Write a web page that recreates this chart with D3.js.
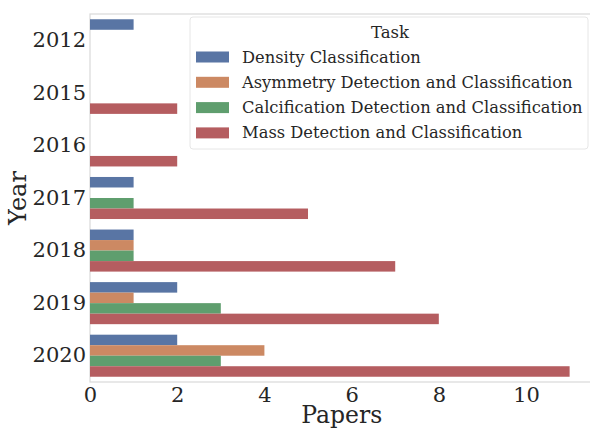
<!DOCTYPE html>
<html>
<head>
<meta charset="utf-8">
<script src="https://cdn.jsdelivr.net/npm/d3@7"></script>
<style>
  body { margin: 0; background: #fff; }
  text { font-family: "DejaVu Serif", serif; fill: #262626; }
</style>
</head>
<body>
<div id="chart"></div>
<script>
// data
var years = ['2012', '2015', '2016', '2017', '2018', '2019', '2020'];
var tasks = [
  'Density Classification',
  'Asymmetry Detection and Classification',
  'Calcification Detection and Classification',
  'Mass Detection and Classification'
];
var density = [1, 0, 0, 1, 1, 2, 2];
var asymmetry = [0, 0, 0, 0, 1, 1, 4];
var calcification = [0, 0, 0, 1, 1, 3, 3];
var mass = [0, 2, 2, 5, 7, 8, 11];
var xTicks = [0, 2, 4, 6, 8, 10];
// seaborn "deep", desaturated like barplot does
var colors = ['#5975a4', '#cc8963', '#5f9e6e', '#b55d60'];

var series = [density, asymmetry, calcification, mass];

// size: svg / plot area
var w = 590, h = 429;
var pL = 90, pR = 593.6, pT = 14, pB = 382;

var svg = d3.select('#chart')
  .append('svg')
  .attr('width', w)
  .attr('height', h);

// scales
var x = d3.scaleLinear().domain([0, 11.55]).range([pL, pR]);
var y = d3.scaleBand().domain(years).range([pT, pB]);
var y1 = d3.scaleBand().domain(tasks).range([0, y.bandwidth() * 0.8]);

// spines
svg.append('rect')
  .attr('x', pL)
  .attr('y', pT)
  .attr('width', pR - pL)
  .attr('height', pB - pT)
  .attr('fill', 'none')
  .attr('stroke', '#d9d9d9')
  .attr('stroke-width', 1.2);

// bars
var gb = svg.append('g');
series.forEach(function (vals, i) {
  gb.selectAll('.bar' + i)
    .data(vals)
    .enter()
    .append('rect')
    .attr('class', 'bar' + i)
    .attr('x', x(0))
    .attr('y', function (d, j) { return y(years[j]) + y.bandwidth() * 0.1 + y1(tasks[i]); })
    .attr('width', function (d) { return x(d) - x(0); })
    .attr('height', y1.bandwidth())
    .attr('fill', colors[i])
    .attr('visibility', function (d) { return d > 0 ? 'visible' : 'hidden'; });
});

// axes
var xAxis = svg.append('g')
  .attr('transform', 'translate(0,' + pB + ')')
  .call(d3.axisBottom(x).tickValues(xTicks).tickSize(0).tickPadding(5));
xAxis.select('.domain').remove();
xAxis.selectAll('text')
  .style('font-family', '"DejaVu Serif", serif')
  .style('font-size', '21px')
  .attr('fill', '#262626');

var yAxis = svg.append('g')
  .attr('transform', 'translate(' + pL + ',0)')
  .call(d3.axisLeft(y).tickSize(0).tickPadding(4));
yAxis.select('.domain').remove();
yAxis.selectAll('text')
  .style('font-family', '"DejaVu Serif", serif')
  .style('font-size', '21px')
  .attr('fill', '#262626');

// axis labels
svg.append('text')
  .attr('x', (pL + pR) / 2)
  .attr('y', 422.5)
  .attr('text-anchor', 'middle')
  .style('font-size', '23.5px')
  .text('Papers');

svg.append('text')
  .attr('transform', 'translate(26,' + (pT + pB) / 2 + ') rotate(-90)')
  .attr('text-anchor', 'middle')
  .style('font-size', '24px')
  .text('Year');

// legend
var lg = svg.append('g');
lg.append('rect')
  .attr('x', 190)
  .attr('y', 17)
  .attr('width', 398)
  .attr('height', 132)
  .attr('rx', 3)
  .attr('fill', '#fff')
  .attr('fill-opacity', 0.85)
  .attr('stroke', '#e6e6e6');
lg.append('text')
  .attr('x', 390)
  .attr('y', 38)
  .attr('text-anchor', 'middle')
  .style('font-size', '16.5px')
  .text('Task');
tasks.forEach(function (t, i) {
  var cy = 57 + i * 25.3;
  lg.append('rect')
    .attr('x', 196)
    .attr('y', cy - 5.5)
    .attr('width', 33)
    .attr('height', 11)
    .attr('fill', colors[i]);
  lg.append('text')
    .attr('x', 242)
    .attr('y', cy + 5.5)
    .style('font-size', '16.3px')
    .text(t);
});
</script>
</body>
</html>
